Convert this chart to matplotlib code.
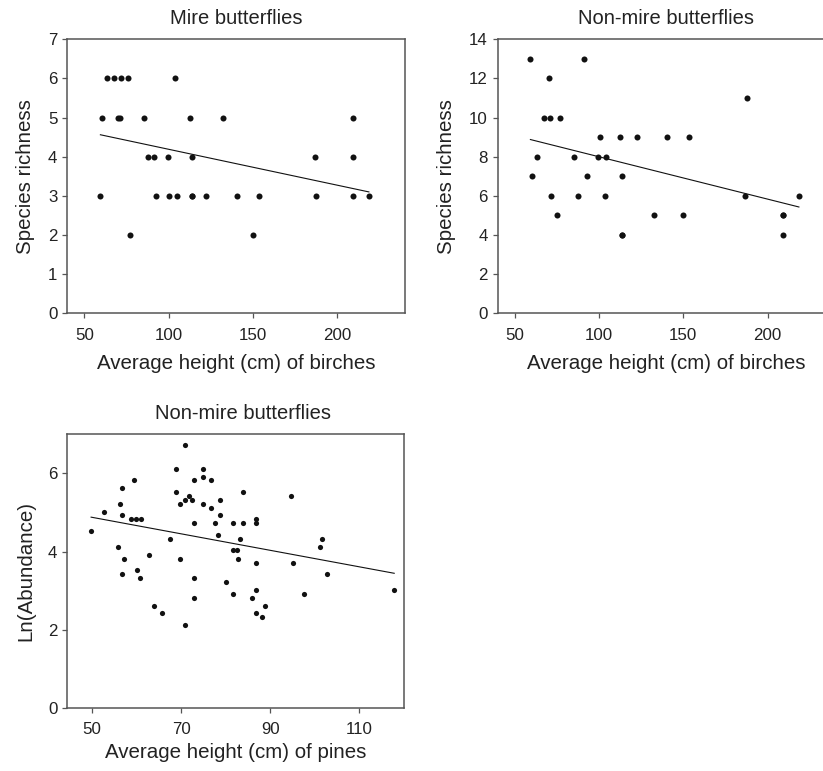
import numpy as np
import matplotlib
matplotlib.use("Agg")
import matplotlib.pyplot as plt

plt.rcParams['font.family'] = ['Liberation Sans', 'DejaVu Sans']

# --- DATOS ---

# Mire butterflies: altura media de abedules vs riqueza
abedul_mire = [63.4, 67.4, 71.5, 75.7, 103.8,
               60.3, 70.1, 71.3, 85.4, 112.5, 132.4, 209.3,
               87.5, 91.5, 99.6, 113.5, 186.4, 209.3,
               59.5, 92.7, 100.4, 104.6, 113.8, 113.8, 122.3, 140.5, 153.4, 187.4, 209.3, 218.6,
               77.3, 150.0]
riqueza_mire = [6, 6, 6, 6, 6,
                5, 5, 5, 5, 5, 5, 5,
                4, 4, 4, 4, 4, 4,
                3, 3, 3, 3, 3, 3, 3, 3, 3, 3, 3, 3,
                2, 2]

# Non-mire butterflies: altura media de abedules vs riqueza
abedul_nomire = [59.4, 91.3, 70.5, 187.5,
                 67.3, 71.3, 77.0,
                 100.7, 112.6, 122.5, 140.4, 153.5,
                 63.5, 85.4, 99.7, 104.4,
                 60.5, 92.7, 113.6,
                 71.5, 87.4, 103.6, 186.3, 218.5,
                 75.4, 132.4, 150.1, 209.3, 209.3,
                 113.9, 113.9, 209.3]
riqueza_nomire = [13, 13, 12, 11,
                  10, 10, 10,
                  9, 9, 9, 9, 9,
                  8, 8, 8, 8,
                  7, 7, 7,
                  6, 6, 6, 6, 6,
                  5, 5, 5, 5, 5,
                  4, 4, 4]

# Non-mire butterflies: altura media de pinos vs ln(abundancia)
pino = [49.8, 52.8, 55.9, 56.2, 56.8, 56.8, 57.1, 56.7, 59.5, 58.8,
        59.9, 60.9, 60.2, 60.8, 62.8, 63.9, 65.8, 67.6, 68.8, 68.9,
        69.8, 69.8, 70.8, 70.8, 70.8, 71.8, 72.4, 72.8, 72.8, 72.8,
        72.8, 74.8, 74.8, 74.8, 76.8, 76.8, 78.8, 78.8, 77.7, 78.3,
        80.0, 81.7, 81.7, 82.6, 82.8, 81.7, 83.3, 83.8, 83.8, 85.8,
        86.8, 86.8, 86.8, 86.8, 86.8, 88.2, 88.8, 94.7, 95.2, 97.6,
        101.1, 101.7, 102.8, 117.8]
ln_abundancia = [4.52, 5.02, 4.13, 5.23, 5.63, 4.93, 3.82, 3.42, 5.82, 4.83,
                 4.83, 4.83, 3.52, 3.32, 3.92, 2.62, 2.43, 4.32, 6.12, 5.52,
                 5.23, 3.82, 6.72, 5.33, 2.12, 5.42, 5.32, 5.82, 4.72, 3.32,
                 2.82, 6.12, 5.92, 5.23, 5.82, 5.12, 5.32, 4.93, 4.72, 4.43,
                 3.22, 4.72, 4.03, 4.03, 3.82, 2.92, 4.32, 5.52, 4.72, 2.82,
                 4.83, 4.72, 3.72, 3.02, 2.43, 2.32, 2.62, 5.42, 3.72, 2.92,
                 4.13, 4.32, 3.42, 3.02]

COLOR_TEXTO = '#222222'
COLOR_EJE = '#555555'


def panel(ax, x, y, titulo, xlabel, ylabel, tam_punto, titulo_x=0.5, pad_x=8):
    ax.scatter(x, y, s=tam_punto, color='#111111', linewidths=0, zorder=3)
    # recta de regresion sobre el rango de los datos
    m, b = np.polyfit(x, y, 1)
    xr = np.array([min(x), max(x)])
    ax.plot(xr, m * xr + b, color='#111111', lw=0.8, zorder=2)
    ax.set_title(titulo, fontsize=14.5, color=COLOR_TEXTO, pad=11, x=titulo_x)
    ax.set_xlabel(xlabel, fontsize=14.8, color=COLOR_TEXTO, labelpad=pad_x)
    ax.set_ylabel(ylabel, fontsize=14.8, color=COLOR_TEXTO, labelpad=9)
    for s in ax.spines.values():
        s.set_color(COLOR_EJE)
        s.set_linewidth(1.1)
    ax.tick_params(direction='out', length=3.8, width=0.9, color=COLOR_EJE,
                   labelsize=12.2, labelcolor=COLOR_TEXTO, top=False, right=False)
    ax.tick_params(axis='x', pad=6.5)


fig = plt.figure(figsize=(8.23, 7.71), dpi=100)

ax1 = fig.add_axes([0.0820, 0.5936, 0.4101, 0.3554])
panel(ax1, abedul_mire, riqueza_mire, 'Mire butterflies',
      'Average height (cm) of birches', 'Species richness', 19)
ax1.set_xlim(40, 240)
ax1.set_ylim(0, 7)
ax1.set_xticks([50, 100, 150, 200])
ax1.set_yticks(range(0, 8))

ax2 = fig.add_axes([0.6047, 0.5936, 0.4101, 0.3554])
panel(ax2, abedul_nomire, riqueza_nomire, 'Non-mire butterflies',
      'Average height (cm) of birches', 'Species richness', 19)
ax2.set_xlim(40, 240)
ax2.set_ylim(0, 14)
ax2.set_xticks([50, 100, 150, 200])
ax2.set_yticks(range(0, 15, 2))

ax3 = fig.add_axes([0.0820, 0.0817, 0.4089, 0.3550])
panel(ax3, pino, ln_abundancia, 'Non-mire butterflies',
      'Average height (cm) of pines', 'Ln(Abundance)', 14, titulo_x=0.522, pad_x=4)
ax3.set_xlim(44.5, 120)
ax3.set_ylim(0, 7)
ax3.set_xticks([50, 70, 90, 110])
ax3.set_yticks([0, 2, 4, 6])

plt.savefig('out.png', dpi=100)
plt.close()
